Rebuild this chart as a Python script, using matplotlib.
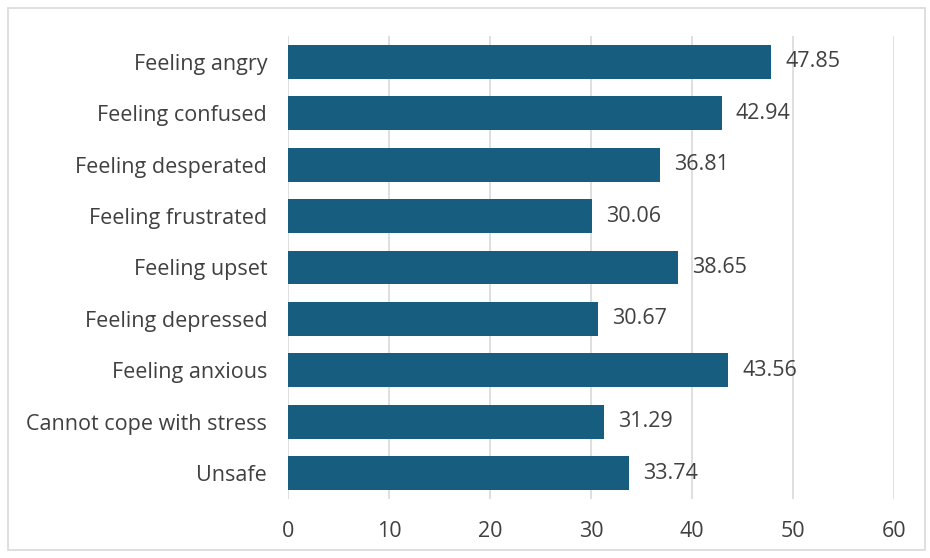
import matplotlib.pyplot as plt
from matplotlib.patches import Rectangle

categories = ['Feeling angry', 'Feeling confused', 'Feeling desperated',
              'Feeling frustrated', 'Feeling upset', 'Feeling depressed',
              'Feeling anxious', 'Cannot cope with stress', 'Unsafe']
values = [47.85, 42.94, 36.81, 30.06, 38.65, 30.67, 43.56, 31.29, 33.74]
xticks = [0, 10, 20, 30, 40, 50, 60]

bar_color = '#175d80'
text_color = '#404040'
plt.rcParams['font.family'] = ['Open Sans', 'DejaVu Sans']

fig = plt.figure(figsize=(9.3, 5.58), dpi=100)
fig.patches.append(Rectangle((8 / 930, 8 / 558), 917 / 930, 542 / 558,
                             transform=fig.transFigure, fill=False,
                             edgecolor='#d9d9d9', linewidth=1.2))

ax = fig.add_axes([288 / 930, 1 - 499 / 558, 606 / 930, 463 / 558])
pos = list(range(len(categories)))
ax.barh(pos, values, height=0.66, color=bar_color, zorder=3)
for p, v in zip(pos, values):
    ax.text(v + 1.4, p, f'{v:.2f}', va='center', ha='left',
            fontsize=15.5, color=text_color, zorder=4)

ax.set_yticks(pos)
ax.set_yticklabels(categories)
ax.set_ylim(len(categories) - 0.5, -0.5)
ax.set_xlim(0, 60)
ax.set_xticks(xticks)
ax.tick_params(axis='both', length=0, labelsize=15.5, labelcolor=text_color)
ax.tick_params(axis='y', pad=15)
ax.tick_params(axis='x', pad=16)
ax.grid(axis='x', color='#d9d9d9', linewidth=1.2, zorder=0)
for s in ax.spines.values():
    s.set_visible(False)

fig.savefig('out.png', dpi=100)
